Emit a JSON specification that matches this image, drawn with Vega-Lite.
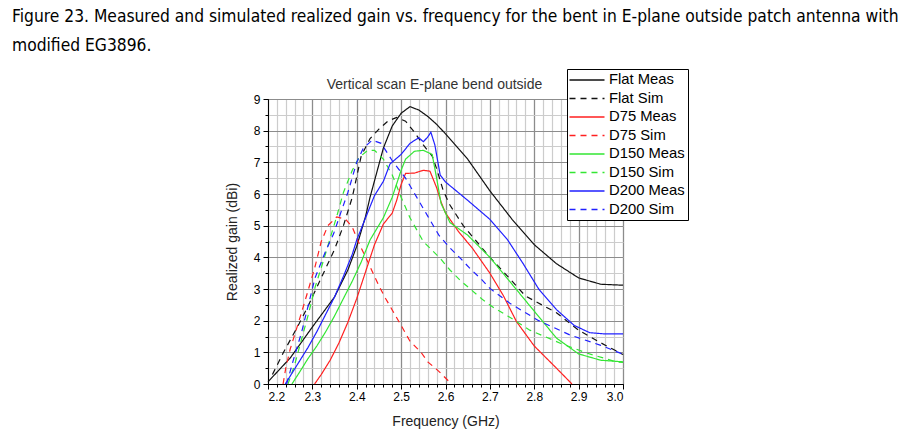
{
  "$schema": "https://vega.github.io/schema/vega-lite/v6.json",
  "width": 355,
  "height": 285,
  "padding": {"left": 12, "top": 8, "right": 5, "bottom": 5},
  "config": {
    "font": "Liberation Sans",
    "view": {"stroke": null},
    "legend": {
      "orient": "none",
      "legendX": 299,
      "legendY": -30,
      "strokeColor": "black",
      "fillColor": "white",
      "padding": 3,
      "symbolType": "M-2.5,0H2.5",
      "symbolSize": 196,
      "symbolOffset": 9,
      "symbolStrokeWidth": 1.5,
      "labelFontSize": 14.8,
      "labelColor": "black",
      "labelOffset": 14,
      "rowPadding": 3.5
    }
  },
  "title": {
    "text": ["Figure 23. Measured and simulated realized gain vs. frequency for the bent in E-plane outside patch antenna with", "modified EG3896."],
    "anchor": "start",
    "frame": "group",
    "dx": -256,
    "fontSize": 17.3,
    "font": "DejaVu Sans Condensed",
    "fontWeight": "normal",
    "color": "black",
    "lineHeight": 29,
    "offset": 14
  },
  "data": {
    "values": [
      {"series": "Flat Meas", "freq": 2.2, "gain": 0.07},
      {"series": "Flat Meas", "freq": 2.25, "gain": 0.82},
      {"series": "Flat Meas", "freq": 2.3, "gain": 1.8},
      {"series": "Flat Meas", "freq": 2.35, "gain": 2.75},
      {"series": "Flat Meas", "freq": 2.38, "gain": 3.6},
      {"series": "Flat Meas", "freq": 2.4, "gain": 4.35},
      {"series": "Flat Meas", "freq": 2.42, "gain": 5.3},
      {"series": "Flat Meas", "freq": 2.43, "gain": 5.9},
      {"series": "Flat Meas", "freq": 2.46, "gain": 7.45},
      {"series": "Flat Meas", "freq": 2.48, "gain": 8.15},
      {"series": "Flat Meas", "freq": 2.5, "gain": 8.55},
      {"series": "Flat Meas", "freq": 2.52, "gain": 8.76},
      {"series": "Flat Meas", "freq": 2.54, "gain": 8.65},
      {"series": "Flat Meas", "freq": 2.56, "gain": 8.45},
      {"series": "Flat Meas", "freq": 2.58, "gain": 8.2},
      {"series": "Flat Meas", "freq": 2.6, "gain": 7.9},
      {"series": "Flat Meas", "freq": 2.65, "gain": 7.1},
      {"series": "Flat Meas", "freq": 2.7, "gain": 6.1},
      {"series": "Flat Meas", "freq": 2.75, "gain": 5.2},
      {"series": "Flat Meas", "freq": 2.8, "gain": 4.4},
      {"series": "Flat Meas", "freq": 2.85, "gain": 3.8},
      {"series": "Flat Meas", "freq": 2.9, "gain": 3.35},
      {"series": "Flat Meas", "freq": 2.95, "gain": 3.15},
      {"series": "Flat Meas", "freq": 3.0, "gain": 3.12},

      {"series": "Flat Sim", "freq": 2.21, "gain": 0.3},
      {"series": "Flat Sim", "freq": 2.235, "gain": 1.0},
      {"series": "Flat Sim", "freq": 2.27, "gain": 1.9},
      {"series": "Flat Sim", "freq": 2.29, "gain": 2.45},
      {"series": "Flat Sim", "freq": 2.31, "gain": 3.05},
      {"series": "Flat Sim", "freq": 2.33, "gain": 3.65},
      {"series": "Flat Sim", "freq": 2.35, "gain": 4.25},
      {"series": "Flat Sim", "freq": 2.37, "gain": 5.0},
      {"series": "Flat Sim", "freq": 2.39, "gain": 5.9},
      {"series": "Flat Sim", "freq": 2.41, "gain": 7.2},
      {"series": "Flat Sim", "freq": 2.43, "gain": 7.75},
      {"series": "Flat Sim", "freq": 2.45, "gain": 8.05},
      {"series": "Flat Sim", "freq": 2.47, "gain": 8.3},
      {"series": "Flat Sim", "freq": 2.49, "gain": 8.42},
      {"series": "Flat Sim", "freq": 2.51, "gain": 8.3},
      {"series": "Flat Sim", "freq": 2.53, "gain": 7.95},
      {"series": "Flat Sim", "freq": 2.55, "gain": 7.55},
      {"series": "Flat Sim", "freq": 2.57, "gain": 7.2},
      {"series": "Flat Sim", "freq": 2.58, "gain": 6.8},
      {"series": "Flat Sim", "freq": 2.595, "gain": 6.1},
      {"series": "Flat Sim", "freq": 2.61, "gain": 5.65},
      {"series": "Flat Sim", "freq": 2.64, "gain": 5.0},
      {"series": "Flat Sim", "freq": 2.67, "gain": 4.5},
      {"series": "Flat Sim", "freq": 2.7, "gain": 4.0},
      {"series": "Flat Sim", "freq": 2.75, "gain": 3.25},
      {"series": "Flat Sim", "freq": 2.78, "gain": 2.78},
      {"series": "Flat Sim", "freq": 2.85, "gain": 2.25},
      {"series": "Flat Sim", "freq": 2.9, "gain": 1.7},
      {"series": "Flat Sim", "freq": 2.95, "gain": 1.3},
      {"series": "Flat Sim", "freq": 3.0, "gain": 0.93},

      {"series": "D75 Meas", "freq": 2.305, "gain": 0.0},
      {"series": "D75 Meas", "freq": 2.32, "gain": 0.3},
      {"series": "D75 Meas", "freq": 2.34, "gain": 0.75},
      {"series": "D75 Meas", "freq": 2.36, "gain": 1.3},
      {"series": "D75 Meas", "freq": 2.38, "gain": 1.95},
      {"series": "D75 Meas", "freq": 2.4, "gain": 2.7},
      {"series": "D75 Meas", "freq": 2.42, "gain": 3.55},
      {"series": "D75 Meas", "freq": 2.44, "gain": 4.4},
      {"series": "D75 Meas", "freq": 2.46, "gain": 5.05},
      {"series": "D75 Meas", "freq": 2.48, "gain": 5.4},
      {"series": "D75 Meas", "freq": 2.49, "gain": 5.8},
      {"series": "D75 Meas", "freq": 2.5, "gain": 6.3},
      {"series": "D75 Meas", "freq": 2.51, "gain": 6.65},
      {"series": "D75 Meas", "freq": 2.53, "gain": 6.66},
      {"series": "D75 Meas", "freq": 2.55, "gain": 6.75},
      {"series": "D75 Meas", "freq": 2.565, "gain": 6.72},
      {"series": "D75 Meas", "freq": 2.58, "gain": 6.2},
      {"series": "D75 Meas", "freq": 2.59, "gain": 5.75},
      {"series": "D75 Meas", "freq": 2.6, "gain": 5.4},
      {"series": "D75 Meas", "freq": 2.63, "gain": 4.8},
      {"series": "D75 Meas", "freq": 2.66, "gain": 4.3},
      {"series": "D75 Meas", "freq": 2.7, "gain": 3.5},
      {"series": "D75 Meas", "freq": 2.73, "gain": 2.8},
      {"series": "D75 Meas", "freq": 2.76, "gain": 1.97},
      {"series": "D75 Meas", "freq": 2.8, "gain": 1.2},
      {"series": "D75 Meas", "freq": 2.85, "gain": 0.5},
      {"series": "D75 Meas", "freq": 2.885, "gain": 0.0},

      {"series": "D75 Sim", "freq": 2.234, "gain": 0.0},
      {"series": "D75 Sim", "freq": 2.24, "gain": 0.5},
      {"series": "D75 Sim", "freq": 2.25, "gain": 1.1},
      {"series": "D75 Sim", "freq": 2.27, "gain": 2.0},
      {"series": "D75 Sim", "freq": 2.285, "gain": 2.7},
      {"series": "D75 Sim", "freq": 2.305, "gain": 3.65},
      {"series": "D75 Sim", "freq": 2.32, "gain": 4.5},
      {"series": "D75 Sim", "freq": 2.335, "gain": 5.0},
      {"series": "D75 Sim", "freq": 2.355, "gain": 5.28},
      {"series": "D75 Sim", "freq": 2.375, "gain": 5.2},
      {"series": "D75 Sim", "freq": 2.39, "gain": 4.95},
      {"series": "D75 Sim", "freq": 2.405, "gain": 4.45},
      {"series": "D75 Sim", "freq": 2.425, "gain": 3.85},
      {"series": "D75 Sim", "freq": 2.45, "gain": 3.1},
      {"series": "D75 Sim", "freq": 2.465, "gain": 2.7},
      {"series": "D75 Sim", "freq": 2.5, "gain": 1.85},
      {"series": "D75 Sim", "freq": 2.52, "gain": 1.35},
      {"series": "D75 Sim", "freq": 2.545, "gain": 1.0},
      {"series": "D75 Sim", "freq": 2.56, "gain": 0.7},
      {"series": "D75 Sim", "freq": 2.585, "gain": 0.4},
      {"series": "D75 Sim", "freq": 2.61, "gain": 0.05},

      {"series": "D150 Meas", "freq": 2.254, "gain": 0.0},
      {"series": "D150 Meas", "freq": 2.27, "gain": 0.35},
      {"series": "D150 Meas", "freq": 2.29, "gain": 0.8},
      {"series": "D150 Meas", "freq": 2.31, "gain": 1.2},
      {"series": "D150 Meas", "freq": 2.33, "gain": 1.65},
      {"series": "D150 Meas", "freq": 2.35, "gain": 2.15},
      {"series": "D150 Meas", "freq": 2.37, "gain": 2.7},
      {"series": "D150 Meas", "freq": 2.39, "gain": 3.25},
      {"series": "D150 Meas", "freq": 2.41, "gain": 3.85},
      {"series": "D150 Meas", "freq": 2.43, "gain": 4.55},
      {"series": "D150 Meas", "freq": 2.46, "gain": 5.25},
      {"series": "D150 Meas", "freq": 2.48, "gain": 5.9},
      {"series": "D150 Meas", "freq": 2.5, "gain": 6.75},
      {"series": "D150 Meas", "freq": 2.51, "gain": 7.1},
      {"series": "D150 Meas", "freq": 2.53, "gain": 7.35},
      {"series": "D150 Meas", "freq": 2.55, "gain": 7.38},
      {"series": "D150 Meas", "freq": 2.57, "gain": 7.25},
      {"series": "D150 Meas", "freq": 2.58, "gain": 6.5},
      {"series": "D150 Meas", "freq": 2.59, "gain": 5.7},
      {"series": "D150 Meas", "freq": 2.61, "gain": 5.1},
      {"series": "D150 Meas", "freq": 2.65, "gain": 4.7},
      {"series": "D150 Meas", "freq": 2.7, "gain": 4.0},
      {"series": "D150 Meas", "freq": 2.75, "gain": 3.15},
      {"series": "D150 Meas", "freq": 2.8, "gain": 2.3},
      {"series": "D150 Meas", "freq": 2.85, "gain": 1.45},
      {"series": "D150 Meas", "freq": 2.9, "gain": 0.95},
      {"series": "D150 Meas", "freq": 2.95, "gain": 0.75},
      {"series": "D150 Meas", "freq": 3.0, "gain": 0.7},

      {"series": "D150 Sim", "freq": 2.245, "gain": 0.0},
      {"series": "D150 Sim", "freq": 2.26, "gain": 0.6},
      {"series": "D150 Sim", "freq": 2.273, "gain": 1.28},
      {"series": "D150 Sim", "freq": 2.29, "gain": 2.15},
      {"series": "D150 Sim", "freq": 2.306, "gain": 3.05},
      {"series": "D150 Sim", "freq": 2.325, "gain": 3.9},
      {"series": "D150 Sim", "freq": 2.34, "gain": 4.6},
      {"series": "D150 Sim", "freq": 2.355, "gain": 5.3},
      {"series": "D150 Sim", "freq": 2.37, "gain": 6.05},
      {"series": "D150 Sim", "freq": 2.39, "gain": 6.75},
      {"series": "D150 Sim", "freq": 2.405, "gain": 7.15},
      {"series": "D150 Sim", "freq": 2.425, "gain": 7.38},
      {"series": "D150 Sim", "freq": 2.44, "gain": 7.38},
      {"series": "D150 Sim", "freq": 2.46, "gain": 7.1},
      {"series": "D150 Sim", "freq": 2.48, "gain": 6.6},
      {"series": "D150 Sim", "freq": 2.5, "gain": 5.9},
      {"series": "D150 Sim", "freq": 2.52, "gain": 5.25},
      {"series": "D150 Sim", "freq": 2.55, "gain": 4.5},
      {"series": "D150 Sim", "freq": 2.588, "gain": 3.97},
      {"series": "D150 Sim", "freq": 2.61, "gain": 3.6},
      {"series": "D150 Sim", "freq": 2.635, "gain": 3.25},
      {"series": "D150 Sim", "freq": 2.66, "gain": 2.95},
      {"series": "D150 Sim", "freq": 2.685, "gain": 2.65},
      {"series": "D150 Sim", "freq": 2.71, "gain": 2.4},
      {"series": "D150 Sim", "freq": 2.74, "gain": 2.15},
      {"series": "D150 Sim", "freq": 2.79, "gain": 1.7},
      {"series": "D150 Sim", "freq": 2.86, "gain": 1.28},
      {"series": "D150 Sim", "freq": 2.92, "gain": 0.97},
      {"series": "D150 Sim", "freq": 2.985, "gain": 0.7},
      {"series": "D150 Sim", "freq": 3.0, "gain": 0.68},

      {"series": "D200 Meas", "freq": 2.239, "gain": 0.0},
      {"series": "D200 Meas", "freq": 2.25, "gain": 0.25},
      {"series": "D200 Meas", "freq": 2.27, "gain": 0.7},
      {"series": "D200 Meas", "freq": 2.29, "gain": 1.15},
      {"series": "D200 Meas", "freq": 2.31, "gain": 1.65},
      {"series": "D200 Meas", "freq": 2.33, "gain": 2.2},
      {"series": "D200 Meas", "freq": 2.35, "gain": 2.75},
      {"series": "D200 Meas", "freq": 2.37, "gain": 3.4},
      {"series": "D200 Meas", "freq": 2.39, "gain": 4.1},
      {"series": "D200 Meas", "freq": 2.4, "gain": 4.55},
      {"series": "D200 Meas", "freq": 2.42, "gain": 5.25},
      {"series": "D200 Meas", "freq": 2.44, "gain": 5.95},
      {"series": "D200 Meas", "freq": 2.46, "gain": 6.4},
      {"series": "D200 Meas", "freq": 2.475, "gain": 6.95},
      {"series": "D200 Meas", "freq": 2.5, "gain": 7.25},
      {"series": "D200 Meas", "freq": 2.52, "gain": 7.6},
      {"series": "D200 Meas", "freq": 2.54, "gain": 7.78},
      {"series": "D200 Meas", "freq": 2.55, "gain": 7.65},
      {"series": "D200 Meas", "freq": 2.56, "gain": 7.8},
      {"series": "D200 Meas", "freq": 2.567, "gain": 7.95},
      {"series": "D200 Meas", "freq": 2.576, "gain": 7.55},
      {"series": "D200 Meas", "freq": 2.588, "gain": 6.6},
      {"series": "D200 Meas", "freq": 2.6, "gain": 6.38},
      {"series": "D200 Meas", "freq": 2.65, "gain": 5.8},
      {"series": "D200 Meas", "freq": 2.7, "gain": 5.2},
      {"series": "D200 Meas", "freq": 2.74, "gain": 4.55},
      {"series": "D200 Meas", "freq": 2.775, "gain": 3.8},
      {"series": "D200 Meas", "freq": 2.81, "gain": 3.0},
      {"series": "D200 Meas", "freq": 2.85, "gain": 2.35},
      {"series": "D200 Meas", "freq": 2.89, "gain": 1.85},
      {"series": "D200 Meas", "freq": 2.925, "gain": 1.62},
      {"series": "D200 Meas", "freq": 2.96, "gain": 1.58},
      {"series": "D200 Meas", "freq": 3.0, "gain": 1.58},

      {"series": "D200 Sim", "freq": 2.242, "gain": 0.0},
      {"series": "D200 Sim", "freq": 2.25, "gain": 0.4},
      {"series": "D200 Sim", "freq": 2.258, "gain": 0.8},
      {"series": "D200 Sim", "freq": 2.276, "gain": 1.65},
      {"series": "D200 Sim", "freq": 2.291, "gain": 2.5},
      {"series": "D200 Sim", "freq": 2.306, "gain": 3.35},
      {"series": "D200 Sim", "freq": 2.33, "gain": 4.2},
      {"series": "D200 Sim", "freq": 2.348, "gain": 4.75},
      {"series": "D200 Sim", "freq": 2.365, "gain": 5.45},
      {"series": "D200 Sim", "freq": 2.38, "gain": 6.05},
      {"series": "D200 Sim", "freq": 2.4, "gain": 7.0},
      {"series": "D200 Sim", "freq": 2.415, "gain": 7.45},
      {"series": "D200 Sim", "freq": 2.435, "gain": 7.7},
      {"series": "D200 Sim", "freq": 2.455, "gain": 7.6},
      {"series": "D200 Sim", "freq": 2.48, "gain": 7.05},
      {"series": "D200 Sim", "freq": 2.51, "gain": 6.5},
      {"series": "D200 Sim", "freq": 2.535, "gain": 5.9},
      {"series": "D200 Sim", "freq": 2.56, "gain": 5.3},
      {"series": "D200 Sim", "freq": 2.585, "gain": 4.7},
      {"series": "D200 Sim", "freq": 2.61, "gain": 4.3},
      {"series": "D200 Sim", "freq": 2.635, "gain": 3.95},
      {"series": "D200 Sim", "freq": 2.655, "gain": 3.65},
      {"series": "D200 Sim", "freq": 2.68, "gain": 3.32},
      {"series": "D200 Sim", "freq": 2.7, "gain": 3.02},
      {"series": "D200 Sim", "freq": 2.745, "gain": 2.55},
      {"series": "D200 Sim", "freq": 2.81, "gain": 2.0},
      {"series": "D200 Sim", "freq": 2.88, "gain": 1.55},
      {"series": "D200 Sim", "freq": 2.95, "gain": 1.22},
      {"series": "D200 Sim", "freq": 3.0, "gain": 0.94}
    ]
  },
  "layer": [
    {
      "mark": {"type": "line", "strokeOpacity": 0},
      "encoding": {
        "x": {
          "field": "freq", "type": "quantitative",
          "scale": {"domain": [2.2, 3.0], "nice": false, "zero": false},
          "axis": {
            "orient": "top",
            "values": [2.2,2.22,2.24,2.26,2.28,2.3,2.32,2.34,2.36,2.38,2.4,2.42,2.44,2.46,2.48,2.5,2.52,2.54,2.56,2.58,2.6,2.62,2.64,2.66,2.68,2.7,2.72,2.74,2.76,2.78,2.8,2.82,2.84,2.86,2.88,2.9,2.92,2.94,2.96,2.98,3.0],
            "grid": true, "gridColor": "#cccccc", "gridWidth": 1.2,
            "domain": false, "ticks": false, "labels": false,
            "title": "Vertical scan E-plane bend outside",
            "titleFontSize": 14, "titleFontWeight": "normal", "titleColor": "#333333",
            "titlePadding": 8, "titleX": 166
          }
        },
        "y": {
          "field": "gain", "type": "quantitative",
          "scale": {"domain": [0, 9], "nice": false},
          "axis": {
            "orient": "left",
            "values": [0,0.5,1,1.5,2,2.5,3,3.5,4,4.5,5,5.5,6,6.5,7,7.5,8,8.5,9],
            "grid": true, "gridColor": "#cccccc", "gridWidth": 1.2,
            "domain": false, "ticks": true, "tickSize": 3, "tickColor": "black",
            "labels": false, "title": null
          }
        },
        "detail": {"field": "series"}
      }
    },
    {
      "mark": {"type": "line", "strokeOpacity": 0},
      "encoding": {
        "x": {
          "field": "freq", "type": "quantitative",
          "scale": {"domain": [2.2, 3.0], "nice": false, "zero": false},
          "axis": {
            "orient": "bottom",
            "values": [2.2,2.22,2.24,2.26,2.28,2.3,2.32,2.34,2.36,2.38,2.4,2.42,2.44,2.46,2.48,2.5,2.52,2.54,2.56,2.58,2.6,2.62,2.64,2.66,2.68,2.7,2.72,2.74,2.76,2.78,2.8,2.82,2.84,2.86,2.88,2.9,2.92,2.94,2.96,2.98,3.0],
            "grid": false, "domain": false, "ticks": true, "tickSize": 3, "tickColor": "black",
            "labels": false, "title": null
          }
        },
        "y": {"field": "gain", "type": "quantitative", "scale": {"domain": [0, 9], "nice": false}, "axis": null},
        "detail": {"field": "series"}
      }
    },
    {
      "mark": {"type": "line", "strokeWidth": 1.2},
      "encoding": {
        "x": {
          "field": "freq", "type": "quantitative",
          "scale": {"domain": [2.2, 3.0], "nice": false, "zero": false},
          "axis": {
            "orient": "bottom",
            "values": [2.2,2.3,2.4,2.5,2.6,2.7,2.8,2.9,3.0],
            "format": ".1f",
            "grid": true, "gridColor": "#8c8c8c", "gridWidth": 1.2,
            "domainColor": "black", "tickColor": "black", "tickSize": 5,
            "labelFontSize": 12, "labelColor": "black", "labelPadding": 2,
            "title": "Frequency (GHz)", "titleFontSize": 14, "titleFontWeight": "normal",
            "titleColor": "#222222", "titlePadding": 12
          }
        },
        "y": {
          "field": "gain", "type": "quantitative",
          "scale": {"domain": [0, 9], "nice": false},
          "axis": {
            "orient": "left",
            "values": [0,1,2,3,4,5,6,7,8,9],
            "grid": true, "gridColor": "#8c8c8c", "gridWidth": 1.2,
            "domainColor": "black", "tickColor": "black", "tickSize": 5,
            "labelFontSize": 12, "labelColor": "black", "labelPadding": 3,
            "title": "Realized gain (dBi)", "titleFontSize": 14, "titleFontWeight": "normal",
            "titleColor": "#222222", "titlePadding": 14
          }
        },
        "color": {
          "field": "series", "type": "nominal",
          "scale": {
            "domain": ["Flat Meas","Flat Sim","D75 Meas","D75 Sim","D150 Meas","D150 Sim","D200 Meas","D200 Sim"],
            "range": ["#111111","#111111","#ff2020","#ff2020","#33e633","#33e633","#2020ff","#2020ff"]
          },
          "legend": {"title": null}
        },
        "strokeDash": {
          "field": "series", "type": "nominal",
          "scale": {
            "domain": ["Flat Meas","Flat Sim","D75 Meas","D75 Sim","D150 Meas","D150 Sim","D200 Meas","D200 Sim"],
            "range": [[1,0],[6,5],[1,0],[6,5],[1,0],[6,5],[1,0],[6,5]]
          },
          "legend": {"title": null}
        }
      }
    }
  ],
  "resolve": {"axis": {"x": "independent", "y": "independent"}}
}
